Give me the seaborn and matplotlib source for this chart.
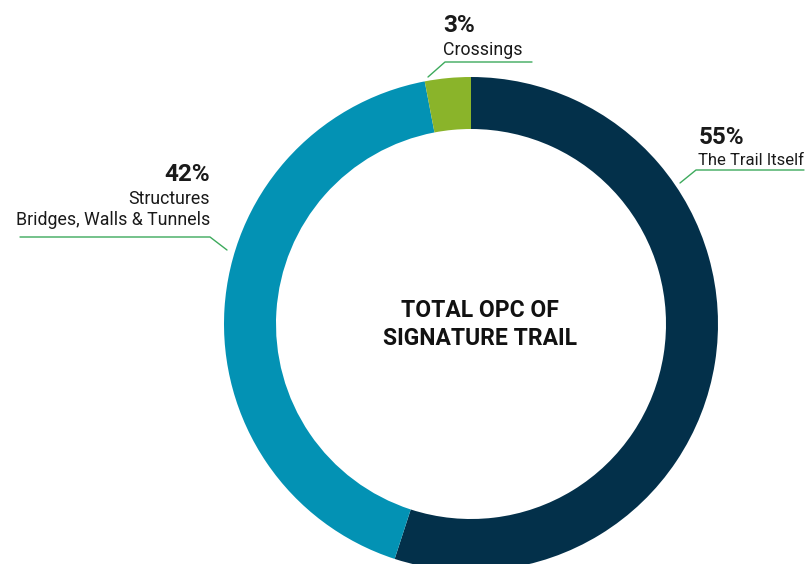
import matplotlib
matplotlib.use("Agg")
import matplotlib.pyplot as plt
import seaborn as sns

# Share of total opinion of probable cost, by component
categories = ["The Trail Itself", "Structures", "Crossings"]
shares = [55, 42, 3]
pct_labels = ["55%", "42%", "3%"]
sub_labels = ["The Trail Itself", "Structures\nBridges, Walls & Tunnels", "Crossings"]
colors = ["#03304A", "#0392B4", "#8AB42A"]
leader_color = "#3DAA5C"

sns.set_theme(style="white")
plt.rcParams["font.family"] = ["Roboto", "DejaVu Sans"]

W, H = 810, 564
fig = plt.figure(figsize=(W / 100, H / 100), dpi=100)
ax = fig.add_axes([0, 0, 1, 1])


def Y(py):
    return H - py


cx, cy, r_out, ring = 471, 324, 247, 52
ax.pie(shares, colors=colors, startangle=90, counterclock=False,
       radius=r_out, center=(cx, Y(cy)), frame=True,
       wedgeprops=dict(width=ring, edgecolor="none", linewidth=0))
ax.set_xlim(0, W)
ax.set_ylim(0, H)
ax.set_aspect("equal")
ax.axis("off")

txt = "#1a1a1a"
pct_size, sub_size = 17.5, 12.8
# Crossings
ax.text(443, Y(32), pct_labels[2], fontsize=pct_size, fontweight="bold", color=txt, ha="left", va="baseline")
ax.text(443, Y(55), sub_labels[2], fontsize=sub_size, color=txt, ha="left", va="baseline")
ax.plot([428, 445, 532], [Y(77), Y(62), Y(62)], color=leader_color, lw=1)

# The Trail Itself (slightly smaller so it stays inside the right edge)
ax.text(699, Y(144), pct_labels[0], fontsize=pct_size, fontweight="bold", color=txt, ha="left", va="baseline")
ax.text(698, Y(165), sub_labels[0], fontsize=12.0, color=txt, ha="left", va="baseline")
ax.plot([680, 696, 804], [Y(183), Y(170), Y(170)], color=leader_color, lw=1)

# Structures
ax.text(210, Y(181), pct_labels[1], fontsize=pct_size, fontweight="bold", color=txt, ha="right", va="baseline")
ax.text(210, Y(204), "Structures", fontsize=sub_size, color=txt, ha="right", va="baseline")
ax.text(210, Y(225), "Bridges, Walls & Tunnels", fontsize=sub_size, color=txt, ha="right", va="baseline")
ax.plot([20, 210, 227], [Y(237), Y(237), Y(250)], color=leader_color, lw=1)

# Centre title
ax.text(480, Y(317), "TOTAL OPC OF", fontsize=16.5, fontweight="bold", color="#111111", ha="center", va="baseline")
ax.text(480, Y(345), "SIGNATURE TRAIL", fontsize=16.5, fontweight="bold", color="#111111", ha="center", va="baseline")

fig.savefig("out.png", dpi=100, facecolor="white")
